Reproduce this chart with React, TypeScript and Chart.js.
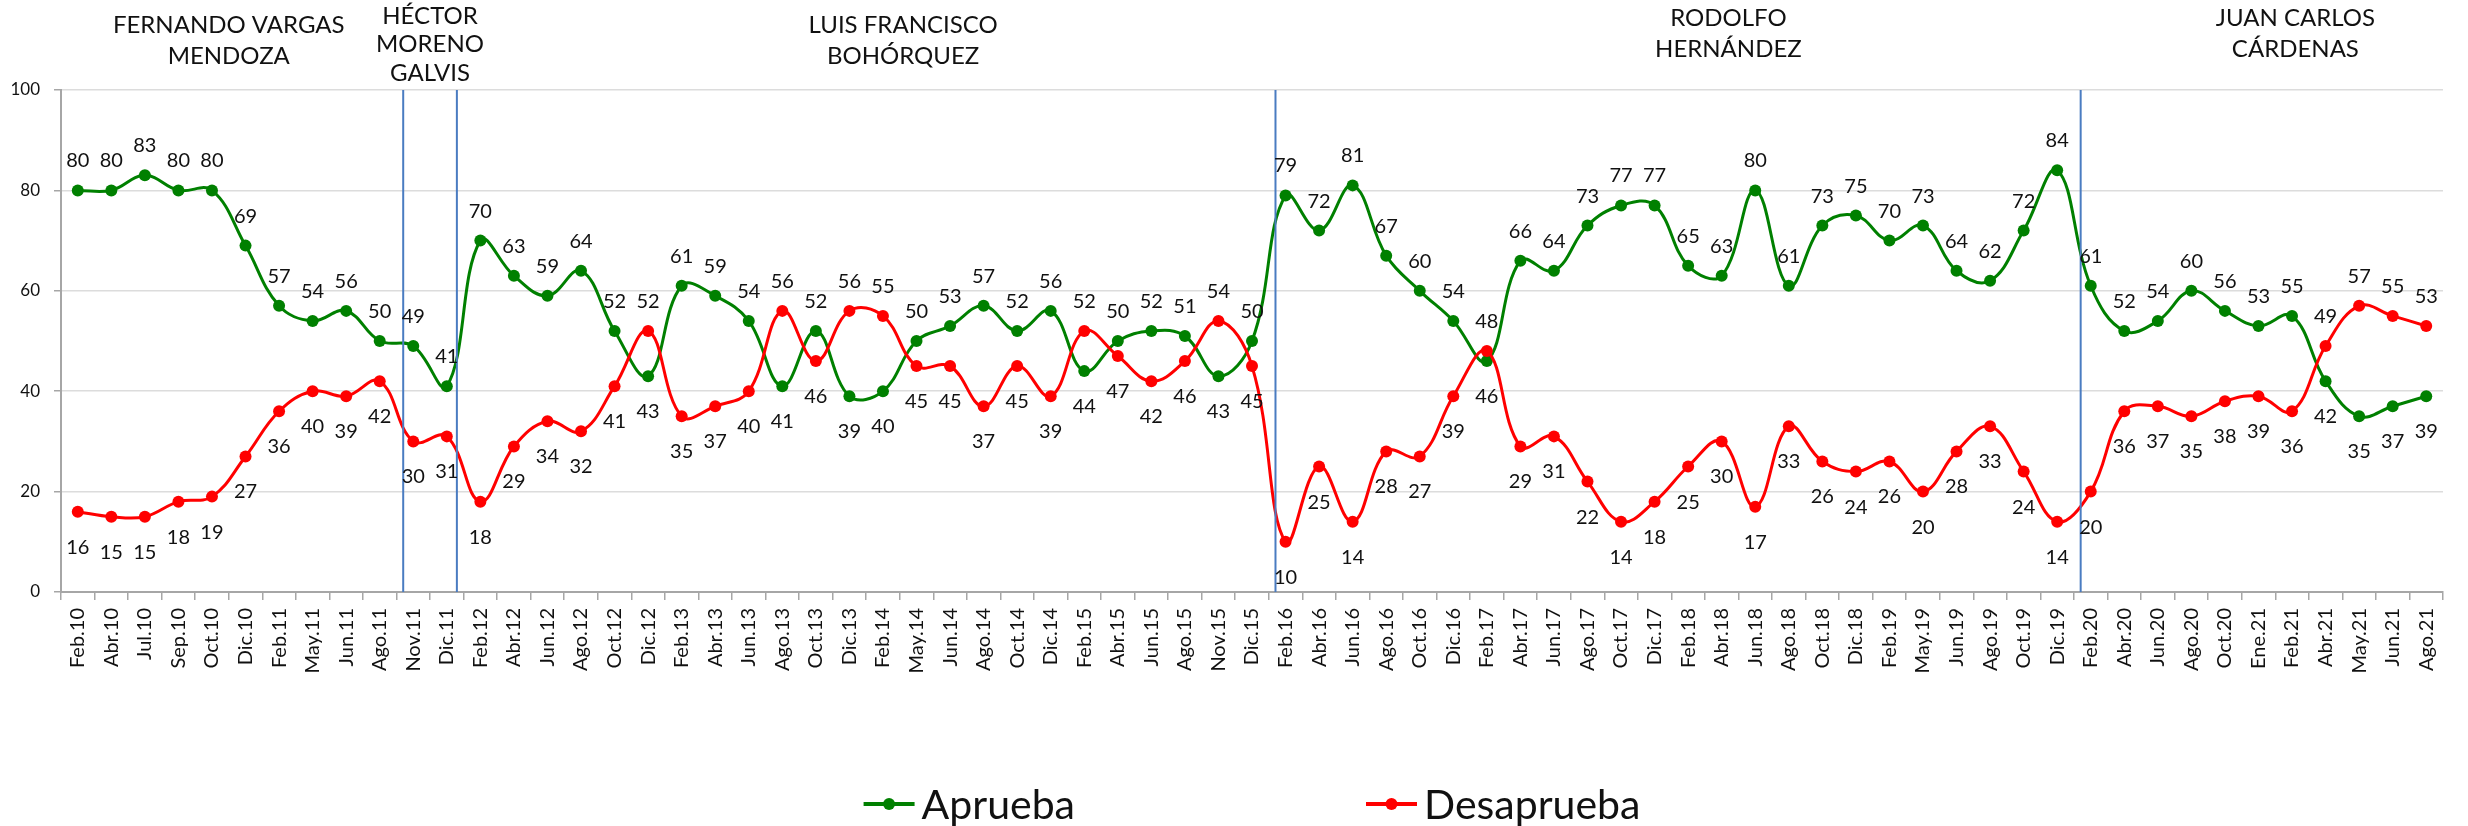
import React, { useEffect, useRef } from "react";
import { Chart, registerables } from "chart.js";

Chart.register(...registerables);

const categories = [
  "Feb.10", "Abr.10", "Jul.10", "Sep.10", "Oct.10", "Dic.10",
  "Feb.11", "May.11", "Jun.11", "Ago.11", "Nov.11", "Dic.11",
  "Feb.12", "Abr.12", "Jun.12", "Ago.12", "Oct.12", "Dic.12",
  "Feb.13", "Abr.13", "Jun.13", "Ago.13", "Oct.13", "Dic.13",
  "Feb.14", "May.14", "Jun.14", "Ago.14", "Oct.14", "Dic.14",
  "Feb.15", "Abr.15", "Jun.15", "Ago.15", "Nov.15", "Dic.15",
  "Feb.16", "Abr.16", "Jun.16", "Ago.16", "Oct.16", "Dic.16",
  "Feb.17", "Abr.17", "Jun.17", "Ago.17", "Oct.17", "Dic.17",
  "Feb.18", "Abr.18", "Jun.18", "Ago.18", "Oct.18", "Dic.18",
  "Feb.19", "May.19", "Jun.19", "Ago.19", "Oct.19", "Dic.19",
  "Feb.20", "Abr.20", "Jun.20", "Ago.20", "Oct.20",
  "Ene.21", "Feb.21", "Abr.21", "May.21", "Jun.21", "Ago.21",
];

const aprueba = [
  80, 80, 83, 80, 80, 69,
  57, 54, 56, 50, 49, 41,
  70, 63, 59, 64, 52, 43,
  61, 59, 54, 41, 52, 39,
  40, 50, 53, 57, 52, 56,
  44, 50, 52, 51, 43, 50,
  79, 72, 81, 67, 60, 54,
  46, 66, 64, 73, 77, 77,
  65, 63, 80, 61, 73, 75,
  70, 73, 64, 62, 72, 84,
  61, 52, 54, 60, 56,
  53, 55, 42, 35, 37, 39,
];

const desaprueba = [
  16, 15, 15, 18, 19, 27,
  36, 40, 39, 42, 30, 31,
  18, 29, 34, 32, 41, 52,
  35, 37, 40, 56, 46, 56,
  55, 45, 45, 37, 45, 39,
  52, 47, 42, 46, 54, 45,
  10, 25, 14, 28, 27, 39,
  48, 29, 31, 22, 14, 18,
  25, 30, 17, 33, 26, 24,
  26, 20, 28, 33, 24, 14,
  20, 36, 37, 35, 38,
  39, 36, 49, 57, 55, 53,
];

const yTickValues = [0, 20, 40, 60, 80, 100];

const mayorNames = [
  ["FERNANDO VARGAS", "MENDOZA"],
  ["HÉCTOR", "MORENO", "GALVIS"],
  ["LUIS FRANCISCO", "BOHÓRQUEZ"],
  ["RODOLFO", "HERNÁNDEZ"],
  ["JUAN CARLOS", "CÁRDENAS"],
];
// centre of each name block, in category units
const mayorCenters = [4.5, 10.5, 24.6, 49.2, 66.1];
// term dividers, in category units
const termDividers = [9.7, 11.3, 35.7, 59.7];

const FONT = 'Lato, "Open Sans", sans-serif';
const GREEN = "#008000";
const RED = "#ff0000";

const overlayPlugin = {
  id: "overlay",
  afterDatasetsDraw(chart: any) {
    const { ctx, chartArea } = chart;
    const x = chart.scales.x;
    ctx.save();
    ctx.strokeStyle = "#4a7cc1";
    ctx.lineWidth = 2;
    termDividers.forEach((v) => {
      const px = x.getPixelForValue(v);
      ctx.beginPath();
      ctx.moveTo(px, chartArea.top);
      ctx.lineTo(px, chartArea.bottom);
      ctx.stroke();
    });
    ctx.font = `20px ${FONT}`;
    ctx.textAlign = "center";
    ctx.textBaseline = "alphabetic";
    ctx.fillStyle = "#111";
    const sets = chart.data.datasets;
    sets.forEach((ds: any, di: number) => {
      const meta = chart.getDatasetMeta(di);
      const other = sets[1 - di].data;
      meta.data.forEach((pt: any, i: number) => {
        const v = ds.data[i];
        const above = v > other[i] || (v === other[i] && di === 0);
        const y = above ? pt.y - 23 : pt.y + 42;
        ctx.fillText(String(v), pt.x, y);
      });
    });
    ctx.restore();
  },
  afterDraw(chart: any) {
    const { ctx, chartArea } = chart;
    const x = chart.scales.x;
    ctx.save();
    ctx.font = `24px ${FONT}`;
    ctx.textAlign = "center";
    ctx.textBaseline = "alphabetic";
    ctx.fillStyle = "#111";
    const tops = [24, 15, 24, 17, 17];
    mayorNames.forEach((lines, k) => {
      const cx = x.getPixelForValue(mayorCenters[k]);
      const lh = lines.length === 3 ? 28.5 : 31.5;
      lines.forEach((line, j) => {
        ctx.fillText(line, cx, tops[k] + j * lh + 8.6);
      });
    });
    ctx.font = `41px ${FONT}`;
    ctx.textAlign = "left";
    const items = chart.data.datasets.map((d: any) => ({
      label: d.label,
      color: d.borderColor,
      w: ctx.measureText(d.label).width,
    }));
    const lineLen = 51;
    const textGap = 7;
    const itemGap = 291;
    let total = itemGap * (items.length - 1);
    items.forEach((it: any) => (total += lineLen + textGap + it.w));
    let sx = (chartArea.left + chartArea.right) / 2 - total / 2;
    const cy = chartArea.bottom + 212;
    items.forEach((it: any) => {
      ctx.strokeStyle = it.color;
      ctx.lineWidth = 4;
      ctx.beginPath();
      ctx.moveTo(sx, cy);
      ctx.lineTo(sx + lineLen, cy);
      ctx.stroke();
      ctx.fillStyle = it.color;
      ctx.beginPath();
      ctx.arc(sx + lineLen / 2, cy, 6, 0, Math.PI * 2);
      ctx.fill();
      ctx.fillStyle = "#111";
      ctx.fillText(it.label, sx + lineLen + textGap, cy + 14.5);
      sx += lineLen + textGap + it.w + itemGap;
    });
    ctx.restore();
  },
};

export default function App() {
  const ref = useRef<HTMLCanvasElement | null>(null);

  useEffect(() => {
    if (!ref.current) return;
    const chart = new Chart(ref.current, {
      type: "line",
      data: {
        labels: categories,
        datasets: [
          {
            label: "Aprueba",
            data: aprueba,
            borderColor: GREEN,
            backgroundColor: GREEN,
            pointBackgroundColor: GREEN,
            pointBorderColor: GREEN,
            borderWidth: 3,
            pointRadius: 6,
            pointBorderWidth: 0,
            tension: 0.4,
            order: 1,
          },
          {
            label: "Desaprueba",
            data: desaprueba,
            borderColor: RED,
            backgroundColor: RED,
            pointBackgroundColor: RED,
            pointBorderColor: RED,
            borderWidth: 3,
            pointRadius: 6,
            pointBorderWidth: 0,
            tension: 0.4,
            order: 0,
          },
        ],
      },
      options: {
        responsive: false,
        animation: false,
        devicePixelRatio: 1,
        events: [],
        layout: { padding: { top: 90, right: 25, left: 0, bottom: 0 } },
        plugins: {
          legend: { display: false },
          tooltip: { enabled: false },
          title: { display: false },
        },
        scales: {
          x: {
            type: "category",
            offset: true,
            afterFit: (s: any) => {
              s.height = 234;
            },
            grid: {
              offset: true,
              drawOnChartArea: false,
              drawTicks: true,
              tickLength: 8,
              tickColor: "#a6a6a6",
              lineWidth: 1.5,
            },
            border: { color: "#a6a6a6", width: 2 },
            ticks: {
              autoSkip: false,
              maxRotation: 90,
              minRotation: 90,
              padding: 8,
              color: "#111",
              font: { family: FONT, size: 20 },
            },
          },
          y: {
            min: 0,
            max: 100,
            afterFit: (s: any) => {
              s.width = 61;
            },
            afterBuildTicks: (s: any) => {
              s.ticks = yTickValues.map((v) => ({ value: v }));
            },
            grid: {
              color: (c: any) => (c.tick && c.tick.value === 0 ? "rgba(0,0,0,0)" : "#dcdcdc"),
              lineWidth: 1.5,
              drawTicks: true,
              tickLength: 7,
              tickColor: "#a6a6a6",
            },
            border: { color: "#a6a6a6", width: 2 },
            ticks: {
              padding: 14,
              color: "#111",
              font: { family: FONT, size: 17 },
            },
          },
        },
      },
      plugins: [overlayPlugin],
    } as any);
    return () => chart.destroy();
  }, []);

  return (
    <div
      style={{
        position: "fixed",
        left: 0,
        top: 0,
        width: 2468,
        height: 826,
        background: "#fff",
      }}
    >
      <canvas ref={ref} width={2468} height={826} style={{ width: 2468, height: 826, display: "block" }} />
    </div>
  );
}
